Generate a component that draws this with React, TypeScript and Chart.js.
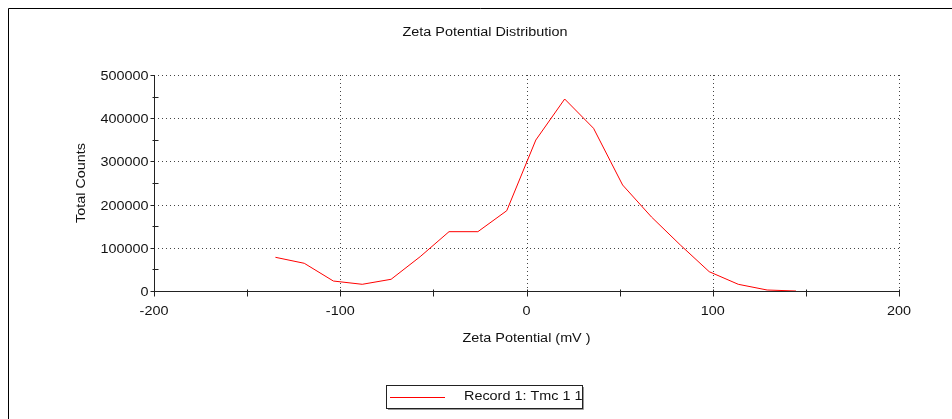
import { useEffect, useRef } from "react";
import { Chart, registerables } from "chart.js";

Chart.register(...registerables);

// Data
const zetaMv = [-134.8, -119.3, -103.7, -88.2, -72.7, -57.1, -41.6, -26.1, -10.6, 5.0, 20.5, 36.0, 51.6, 67.1, 82.6, 98.1, 113.7, 129.2, 144.7];
const totalCounts = [78000, 64100, 23100, 15500, 27100, 79400, 137300, 137300, 185900, 349500, 444400, 376600, 245400, 171300, 106500, 44700, 15500, 2300, 0];

const xTickLabels = [-200, -100, 0, 100, 200];
const xMinorTicks = [-200, -150, -100, -50, 0, 50, 100, 150, 200];
const xGridValues = [-100, 0, 100, 200];
const yTickLabels = [0, 100000, 200000, 300000, 400000, 500000];
const yMinorTicks = [50000, 150000, 250000, 350000, 450000];
const yGridValues = [100000, 200000, 300000, 400000, 500000];

const chartTitle = "Zeta Potential Distribution";
const xTitle = "Zeta Potential (mV )";
const yTitle = "Total Counts";
const seriesName = "Record 1: Tmc 1 1";

const FONT = '12px "Liberation Sans", Arial, sans-serif';
const TEXT_COLOR = "#111";
const SX = 1.2;

function drawText(ctx: CanvasRenderingContext2D, s: string, x: number, y: number, align: CanvasTextAlign, rot = 0) {
  ctx.save();
  ctx.translate(x, y);
  if (rot) ctx.rotate(rot);
  ctx.scale(SX, 1);
  ctx.font = FONT;
  ctx.fillStyle = TEXT_COLOR;
  ctx.textAlign = align;
  ctx.textBaseline = "middle";
  ctx.fillText(s, 0, 0);
  ctx.restore();
}

const decorPlugin = {
  id: "decor",
  beforeDatasetsDraw(chart: any) {
    const ctx: CanvasRenderingContext2D = chart.ctx;
    const { left, right, top, bottom } = chart.chartArea;
    const xs = chart.scales.x;
    const ys = chart.scales.y;
    ctx.save();
    ctx.strokeStyle = "#444";
    ctx.lineWidth = 1;
    ctx.setLineDash([1, 3]);
    for (const v of yGridValues) {
      const y = Math.round(ys.getPixelForValue(v)) + 0.5;
      ctx.beginPath();
      ctx.moveTo(left, y);
      ctx.lineTo(right, y);
      ctx.stroke();
    }
    for (const v of xGridValues) {
      const x = Math.round(xs.getPixelForValue(v)) + 0.5;
      ctx.beginPath();
      ctx.moveTo(x, top);
      ctx.lineTo(x, bottom);
      ctx.stroke();
    }
    ctx.restore();
  },
  afterDatasetsDraw(chart: any) {
    const ctx: CanvasRenderingContext2D = chart.ctx;
    const { left, right, top, bottom } = chart.chartArea;
    const xs = chart.scales.x;
    const ys = chart.scales.y;
    ctx.save();
    ctx.strokeStyle = "#222";
    ctx.lineWidth = 1;
    ctx.setLineDash([]);
    const ax = Math.round(left) + 0.5;
    const ay = Math.round(bottom) + 0.5;
    // axes
    ctx.beginPath();
    ctx.moveTo(ax, top);
    ctx.lineTo(ax, ay);
    ctx.lineTo(right, ay);
    ctx.stroke();
    // y ticks
    for (const v of yTickLabels) {
      const y = Math.round(ys.getPixelForValue(v)) + 0.5;
      ctx.beginPath();
      ctx.moveTo(ax - 4, y);
      ctx.lineTo(ax, y);
      ctx.stroke();
      drawText(ctx, String(v), ax - 6, y + 1, "right");
    }
    for (const v of yMinorTicks) {
      const y = Math.round(ys.getPixelForValue(v)) + 0.5;
      ctx.beginPath();
      ctx.moveTo(ax - 2, y);
      ctx.lineTo(ax + 4, y);
      ctx.stroke();
    }
    // x ticks
    for (const v of xMinorTicks) {
      const x = Math.round(xs.getPixelForValue(v)) + 0.5;
      ctx.beginPath();
      ctx.moveTo(x, ay - 2);
      ctx.lineTo(x, ay + 5);
      ctx.stroke();
    }
    for (const v of xTickLabels) {
      const x = xs.getPixelForValue(v);
      drawText(ctx, String(v), x, ay + 20, "center");
    }
    // titles
    drawText(ctx, chartTitle, 485, 33, "center");
    drawText(ctx, xTitle, (left + right) / 2, 339, "center");
    drawText(ctx, yTitle, 82, (top + bottom) / 2, "center", -Math.PI / 2);

    // legend
    ctx.strokeStyle = "#999";
    ctx.beginPath();
    ctx.moveTo(388, 409.5);
    ctx.lineTo(583.5, 409.5);
    ctx.lineTo(583.5, 387);
    ctx.stroke();
    ctx.strokeStyle = "#222";
    ctx.strokeRect(386.5, 385.5, 196, 23);
    ctx.strokeStyle = "rgb(255,0,0)";
    ctx.lineWidth = 1;
    ctx.beginPath();
    ctx.moveTo(390, 397.5);
    ctx.lineTo(445, 397.5);
    ctx.stroke();
    drawText(ctx, seriesName, 464, 397, "left");

    // outer frame
    ctx.strokeStyle = "#000";
    ctx.beginPath();
    ctx.moveTo(8.5, 419);
    ctx.lineTo(8.5, 8.5);
    ctx.lineTo(952, 8.5);
    ctx.stroke();
    ctx.restore();
  },
};

export default function App() {
  const canvasRef = useRef<HTMLCanvasElement | null>(null);

  useEffect(() => {
    document.body.style.margin = "0";
    const canvas = canvasRef.current;
    if (!canvas) return;
    const chart = new Chart(canvas, {
      type: "line",
      data: {
        datasets: [
          {
            label: seriesName,
            data: zetaMv.map((x, i) => ({ x, y: totalCounts[i] })),
            borderColor: "#ff0000",
            backgroundColor: "#ff0000",
            borderWidth: 1,
            pointRadius: 0,
            tension: 0,
            fill: false,
          },
        ],
      },
      options: {
        animation: false,
        responsive: false,
        maintainAspectRatio: false,
        devicePixelRatio: 1,
        layout: { padding: { left: 0, top: 75, right: 53, bottom: 0 } },
        plugins: {
          legend: { display: false },
          title: { display: false },
          tooltip: { enabled: false },
        },
        scales: {
          x: {
            type: "linear",
            min: -200,
            max: 200,
            ticks: { display: false, stepSize: 100 },
            grid: { display: false },
            border: { display: false },
            afterFit: (s: any) => {
              s.height = 128;
            },
          },
          y: {
            type: "linear",
            min: 0,
            max: 500000,
            ticks: { display: false, stepSize: 100000 },
            grid: { display: false },
            border: { display: false },
            afterFit: (s: any) => {
              s.width = 154;
            },
          },
        },
      },
      plugins: [decorPlugin],
    });
    return () => chart.destroy();
  }, []);

  return (
    <div style={{ position: "fixed", left: 0, top: 0, width: 952, height: 419, background: "#fff" }}>
      <canvas ref={canvasRef} width={952} height={419} style={{ width: 952, height: 419, display: "block" }} />
    </div>
  );
}
